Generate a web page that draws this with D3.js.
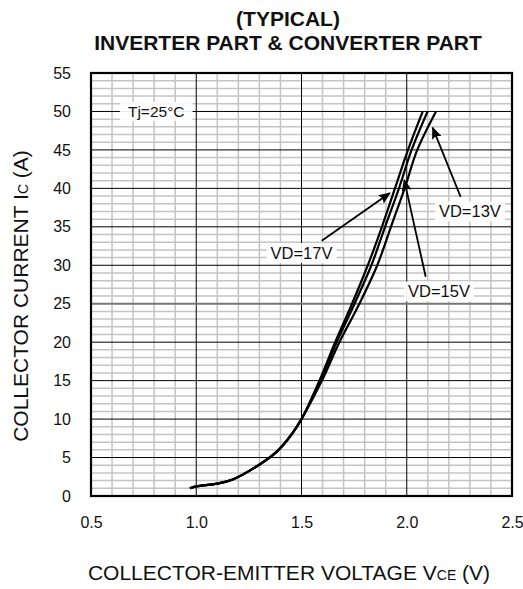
<!DOCTYPE html>
<html>
<head>
<meta charset="utf-8">
<script src="https://cdn.jsdelivr.net/npm/d3@7"></script>
<style>
  body { margin: 0; background: #fff; }
  svg { font-family: 'Liberation Sans', Arial, sans-serif; }
</style>
</head>
<body>
<div id="chart"></div>
<script>
// curve data: [VCE (V), IC (A)]
let lowPart = [[0.97, 1.0], [1.0, 1.25], [1.1, 1.6], [1.17, 2.1], [1.29, 3.9], [1.38, 5.7], [1.45, 7.9], [1.5, 10]]
let vd17 = lowPart.concat([[1.585, 15], [1.66, 20], [1.74, 25], [1.815, 30], [1.882, 35], [1.944, 40], [2.006, 45], [2.076, 50]])
let vd15 = lowPart.concat([[1.59, 15], [1.667, 20], [1.752, 25], [1.832, 30], [1.897, 35], [1.963, 40], [2.023, 45], [2.099, 50]])
let vd13 = lowPart.concat([[1.597, 15], [1.68, 20], [1.775, 25], [1.86, 30], [1.925, 35], [1.99, 40], [2.05, 45], [2.139, 50]])

let xTicks = [0.5, 1.0, 1.5, 2.0, 2.5]
let yTicks = [0, 5, 10, 15, 20, 25, 30, 35, 40, 45, 50, 55]

// annotations: label, label centre [V, A], arrow start and tip [V, A]
let labels = ['VD=17V', 'VD=15V', 'VD=13V']
let labelAt = [[1.5, 31.6], [2.153, 26.6], [2.3, 37.0]]
let arrowFrom = [[1.596, 33.2], [2.09, 28.5], [2.256, 38.9]]
let arrowTo = [[1.92, 39.4], [1.988, 41.1], [2.123, 47.9]]

let width = 523
let height = 589
let margin = { top: 73, left: 91, right: 11, bottom: 93 }
let w = width - margin.left - margin.right
let h = height - margin.top - margin.bottom

let svg = d3.select('#chart')
  .append('svg')
  .attr('width', width)
  .attr('height', height)

let x = d3.scaleLinear().domain([0.5, 2.5]).range([0, w])
let y = d3.scaleLinear().domain([0, 55]).range([h, 0])

let g = svg.append('g')
  .attr('transform', `translate(${margin.left},${margin.top})`)

// minor grid
g.selectAll('.minor-x')
  .data(d3.range(0.6, 2.5, 0.1).filter(v => Math.abs(v * 2 - Math.round(v * 2)) > 0.01))
  .enter().append('line')
  .attr('x1', d => x(d)).attr('x2', d => x(d))
  .attr('y1', 0).attr('y2', h)
  .attr('stroke', '#c4c4c4').attr('stroke-width', 1.5)

g.selectAll('.minor-y')
  .data(d3.range(1, 55).filter(v => v % 5 !== 0))
  .enter().append('line')
  .attr('x1', 0).attr('x2', w)
  .attr('y1', d => y(d)).attr('y2', d => y(d))
  .attr('stroke', '#c4c4c4').attr('stroke-width', 1.5)

// major grid
g.selectAll('.major-x')
  .data(xTicks.slice(1, -1))
  .enter().append('line')
  .attr('x1', d => x(d)).attr('x2', d => x(d))
  .attr('y1', 0).attr('y2', h)
  .attr('stroke', '#000').attr('stroke-width', 1)

g.selectAll('.major-y')
  .data(yTicks.slice(1, -1))
  .enter().append('line')
  .attr('x1', 0).attr('x2', w)
  .attr('y1', d => y(d)).attr('y2', d => y(d))
  .attr('stroke', d => d === 25 ? '#777' : '#000')
  .attr('stroke-width', d => d === 25 ? 1.8 : 1)

// tick labels via axes
let xAxis = g.append('g')
  .attr('transform', `translate(0,${h})`)
  .call(d3.axisBottom(x).tickValues(xTicks).tickFormat(d3.format('.1f')).tickSize(0).tickPadding(21))
let yAxis = g.append('g')
  .call(d3.axisLeft(y).tickValues(yTicks).tickSize(0).tickPadding(20))
xAxis.select('.domain').remove()
yAxis.select('.domain').remove()
svg.selectAll('.tick text')
  .attr('font-size', 16)
  .attr('font-family', 'Liberation Sans, Arial, sans-serif')
  .attr('fill', '#111')

// text on a white box
function boxLabel(text, cx, cy, size, padX) {
  let t = g.append('text')
    .attr('x', cx).attr('y', cy)
    .attr('text-anchor', 'middle')
    .attr('dominant-baseline', 'central')
    .attr('font-size', size)
    .attr('fill', '#111')
    .text(text)
  let bb = t.node().getBBox()
  g.insert('rect', () => t.node())
    .attr('x', bb.x - padX).attr('y', bb.y - 1)
    .attr('width', bb.width + padX * 2).attr('height', bb.height + 2)
    .attr('fill', '#fff').attr('opacity', 0.92)
}

boxLabel('Tj=25°C', x(0.81), y(50), 15.5, 8)

// curves
let line = d3.line()
  .x(d => x(d[0]))
  .y(d => y(d[1]))
  .curve(d3.curveCatmullRom.alpha(0.5))

g.selectAll('.curve')
  .data([vd17, vd15, vd13])
  .enter().append('path')
  .attr('d', line)
  .attr('fill', 'none')
  .attr('stroke', '#000')
  .attr('stroke-width', 2.2)

// arrows
svg.append('defs').append('marker')
  .attr('id', 'arrow')
  .attr('viewBox', '0 0 12 10')
  .attr('refX', 11).attr('refY', 5)
  .attr('markerWidth', 13).attr('markerHeight', 10)
  .attr('markerUnits', 'userSpaceOnUse')
  .attr('orient', 'auto')
  .append('path')
  .attr('d', 'M0,0 L12,5 L0,10 L2,5 z')
  .attr('fill', '#000')

labels.forEach((lab, i) => {
  boxLabel(lab, x(labelAt[i][0]), y(labelAt[i][1]), 16.5, 4)
  g.append('line')
    .attr('x1', x(arrowFrom[i][0])).attr('y1', y(arrowFrom[i][1]))
    .attr('x2', x(arrowTo[i][0])).attr('y2', y(arrowTo[i][1]))
    .attr('stroke', '#000').attr('stroke-width', 1.8)
    .attr('marker-end', 'url(#arrow)')
})

// frame
g.append('rect')
  .attr('width', w).attr('height', h)
  .attr('fill', 'none')
  .attr('stroke', '#000')
  .attr('stroke-width', 2.2)

// titles
svg.append('text')
  .attr('x', 288).attr('y', 26)
  .attr('text-anchor', 'middle')
  .attr('font-size', 21).attr('font-weight', 'bold')
  .attr('fill', '#111')
  .text('(TYPICAL)')
svg.append('text')
  .attr('x', 288).attr('y', 50)
  .attr('text-anchor', 'middle')
  .attr('font-size', 21).attr('font-weight', 'bold')
  .attr('fill', '#111')
  .text('INVERTER PART & CONVERTER PART')

let xt = svg.append('text')
  .attr('x', 289).attr('y', 579.5)
  .attr('text-anchor', 'middle')
  .attr('font-size', 21)
  .attr('fill', '#111')
xt.append('tspan').text('COLLECTOR-EMITTER VOLTAGE V')
xt.append('tspan').attr('font-size', 14).text('CE')
xt.append('tspan').text(' (V)')

let yt = svg.append('text')
  .attr('transform', 'translate(28,296) rotate(-90)')
  .attr('text-anchor', 'middle')
  .attr('font-size', 21)
  .attr('fill', '#111')
yt.append('tspan').text('COLLECTOR CURRENT I')
yt.append('tspan').attr('font-size', 14).text('C')
yt.append('tspan').text(' (A)')
</script>
</body>
</html>
